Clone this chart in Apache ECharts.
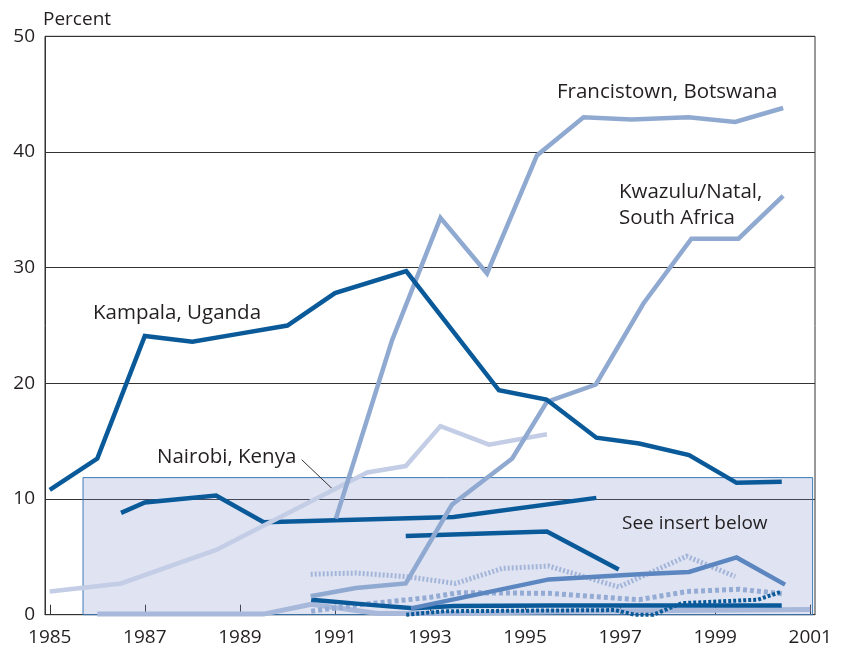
<!DOCTYPE html>
<html><head><meta charset="utf-8">
<script src="https://cdn.jsdelivr.net/npm/echarts@6/dist/echarts.min.js"></script>
<style>html,body{margin:0;padding:0;background:#fff}#c{width:841px;height:650px}</style>
</head><body><div id="c"></div>
<script>
// ---- data (year, percent) ----
const yearTicks = [1985, 1987, 1989, 1991, 1993, 1995, 1997, 1999, 2001];
const valueTicks = [0, 10, 20, 30, 40, 50];

const kampala = [[1985,10.8],[1986,13.5],[1987,24.1],[1988,23.6],[1989,24.3],[1990,25.0],[1991,27.8],[1992.5,29.7],[1994.45,19.4],[1995.45,18.6],[1996.5,15.3],[1997.4,14.8],[1998.45,13.8],[1999.45,11.4],[2000.4,11.5]];
const francistown = [[1991.02,8.3],[1992.2,23.7],[1993.22,34.3],[1994.2,29.5],[1995.25,39.7],[1996.23,43.0],[1997.24,42.8],[1998.44,43.0],[1999.42,42.6],[2000.43,43.8]];
const kwazulu = [[1990.49,1.6],[1991.44,2.3],[1992.49,2.7],[1993.46,9.5],[1994.73,13.5],[1995.46,18.4],[1996.49,19.9],[1997.49,26.9],[1998.5,32.5],[1999.49,32.5],[2000.43,36.2]];
const nairobi = [[1985,2.0],[1986.5,2.7],[1988.5,5.6],[1991.68,12.3],[1992.49,12.85],[1993.22,16.3],[1994.24,14.7],[1995.46,15.6]];

// insert-box series
const darkA = [[1986.5,8.8],[1987,9.7],[1988.5,10.3],[1989.5,8.0],[1993.5,8.45],[1996.5,10.1]];
const darkB = [[1992.49,6.8],[1995.46,7.2],[1996.97,3.9]];
const darkC = [[1990.5,1.3],[1991.75,0.85],[1992.65,0.55],[1993.5,0.75],[1995.5,0.8],[2000.4,0.8]];
const mediumD = [[1992.6,0.55],[1995.5,3.05],[1997.4,3.5],[1998.45,3.7],[1999.45,4.95],[2000.47,2.6]];
const dottedE = [[1990.49,3.5],[1991.44,3.6],[1992.49,3.3],[1993.54,2.7],[1994.52,4.0],[1995.5,4.2],[1996.97,2.4],[1998.4,5.05],[1999.42,3.3]];
const dottedF = [[1990.5,0.3],[1991.5,0.85],[1993.0,1.5],[1993.6,1.9],[1995.5,1.85],[1997.0,1.4],[1997.4,1.3],[1998.4,2.0],[1999.5,2.2],[2000.45,1.8]];
const dottedG = [[1992.5,0.0],[1993.3,0.3],[1996.9,0.4],[1997.3,0.0],[1997.7,0.0],[1998.3,1.0],[1999.9,1.3],[2000.4,2.0]];
const lightH = [[1986,0.05],[1989.5,0.05],[1990.5,0.9],[1991.9,0.1],[1993.5,0.1],[1996,0.3],[2001,0.45]];

const insertBox = [[1985.7, 11.85], [2001.05, -0.7]];
const nairobiLeader = [[1990.3, 13.4], [1990.94, 10.9]];

// ---- styles ----
const DARK = '#0a5a9a', MID = '#5b86c0', LIGHTMID = '#8fa9d1', LIGHT = '#c3cde5';
const FONT = '"Open Sans", "Noto Sans", sans-serif';
const TXT = '#231f20';

function line(data, color, width, z, dash) {
  return {
    type: 'line', data: data, showSymbol: false, symbol: 'none', z: z, silent: true,
    lineStyle: { color: color, width: width, type: dash || 'solid', cap: 'butt', join: 'miter' },
    clip: false
  };
}

const chart = echarts.init(document.getElementById('c'), null, { renderer: 'canvas' });
chart.setOption({
  animation: false,
  backgroundColor: '#fff',
  grid: { left: 45, right: 26, top: 36.3, bottom: 35.3, show: true, borderColor: '#333', borderWidth: 1, backgroundColor: 'transparent' },
  xAxis: {
    type: 'value', min: 1984.9, max: 2001.1,
    axisLine: { show: true, lineStyle: { color: '#333', width: 1 } },
    axisTick: { show: true, inside: true, length: 10, customValues: yearTicks, lineStyle: { color: '#333' } },
    axisLabel: { customValues: yearTicks, fontSize: 19, color: TXT, fontFamily: FONT, margin: 13, formatter: v => String(v) },
    splitLine: { show: false }
  },
  yAxis: {
    type: 'value', min: 0, max: 50, interval: 10,
    axisLine: { show: true, lineStyle: { color: '#333', width: 1 } },
    axisTick: { show: false },
    axisLabel: { fontSize: 19, color: TXT, fontFamily: FONT, margin: 10 },
    splitLine: { show: true, lineStyle: { color: '#333', width: 1 } }
  },
  graphic: [
    { type: 'text', x: 43, y: 20, style: { text: 'Percent', font: '19px ' + FONT, fill: TXT, verticalAlign: 'middle' } },
    { type: 'text', x: 93, y: 313, style: { text: 'Kampala, Uganda', font: '20.5px ' + FONT, fill: TXT, verticalAlign: 'middle' } },
    { type: 'text', x: 157, y: 457, style: { text: 'Nairobi, Kenya', font: '20.5px ' + FONT, fill: TXT, verticalAlign: 'middle' } },
    { type: 'text', x: 557, y: 92, style: { text: 'Francistown, Botswana', font: '20.5px ' + FONT, fill: TXT, verticalAlign: 'middle' } },
    { type: 'text', x: 619, y: 192, style: { text: 'Kwazulu/Natal,', font: '20.5px ' + FONT, fill: TXT, verticalAlign: 'middle' } },
    { type: 'text', x: 619, y: 218, style: { text: 'South Africa', font: '20.5px ' + FONT, fill: TXT, verticalAlign: 'middle' } },
    { type: 'text', x: 622, y: 524, z: 50, style: { text: 'See insert below', font: '19px ' + FONT, fill: TXT, verticalAlign: 'middle' } }
  ],
  series: [
    {
      type: 'line', data: [], z: 1, silent: true, clip: false,
      markArea: {
        silent: true,
        itemStyle: { color: 'rgba(120,140,200,0.24)', borderColor: '#3d7bb6', borderWidth: 1 },
        data: [[{ coord: insertBox[0] }, { coord: insertBox[1] }]]
      }
    },
    line(lightH, '#a8b8da', 5, 3),
    line(dottedF, '#94acd4', 5, 4, [4, 3]),
    line(dottedE, '#a3b5d9', 5, 4, [2, 2]),
    line(dottedG, DARK, 4, 5, [3, 2]),
    line(darkC, DARK, 4.5, 6),
    line(mediumD, MID, 4.5, 6),
    line(darkB, DARK, 4.5, 7),
    line(darkA, DARK, 4.5, 7),
    Object.assign(line(nairobi, LIGHT, 4.5, 8), {
      markLine: {
        silent: true, symbol: 'none', label: { show: false },
        lineStyle: { color: '#333', width: 1, type: 'solid' },
        data: [[{ coord: nairobiLeader[0] }, { coord: nairobiLeader[1] }]]
      }
    }),
    line(kwazulu, LIGHTMID, 4.5, 9),
    line(francistown, LIGHTMID, 4.5, 9),
    line(kampala, DARK, 4.5, 10)
  ]
});
</script></body></html>
